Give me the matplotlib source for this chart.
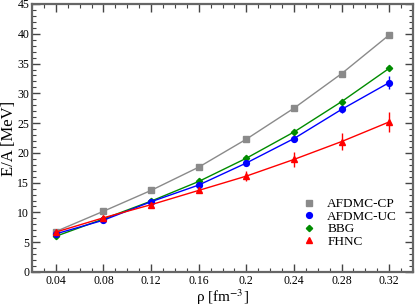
import matplotlib
matplotlib.use("Agg")
import matplotlib.pyplot as plt
from matplotlib.ticker import MultipleLocator
from matplotlib.lines import Line2D

rho = [0.04, 0.08, 0.12, 0.16, 0.20, 0.24, 0.28, 0.32]
afdmc_cp = [6.8, 10.2, 13.7, 17.6, 22.3, 27.5, 33.3, 39.8]
afdmc_uc = [6.4, 8.7, 11.8, 14.6, 18.3, 22.4, 27.3, 31.8]
afdmc_uc_err = [0.1, 0.15, 0.2, 0.3, 0.4, 0.5, 0.6, 1.05]
bbg = [6.0, 8.9, 11.9, 15.2, 19.1, 23.5, 28.6, 34.2]
fhnc = [6.7, 9.1, 11.3, 13.7, 16.1, 18.9, 21.9, 25.2]
fhnc_err = [0.2, 0.3, 0.4, 0.5, 0.8, 1.2, 1.4, 1.7]
xtick_labels = ['0.04', '0.08', '0.12', '0.16', '0.2', '0.24', '0.28', '0.32']

plt.rcParams['font.family'] = ['Liberation Serif', 'DejaVu Serif']
plt.rcParams['mathtext.fontset'] = 'stix'

fig = plt.figure(figsize=(4.15, 3.08), dpi=100)
ax = fig.add_axes([32/415, 1 - 272/308, (413-32)/415, (272-4)/308])

c_cp, c_uc, c_bbg, c_fh = '#8a8a8a', '#0000ff', '#008c00', '#ff0000'

ax.plot(rho, afdmc_cp, color=c_cp, lw=1.0, marker='s', ms=3.8, zorder=3)
ax.errorbar(rho, afdmc_uc, yerr=afdmc_uc_err, color=c_uc, lw=1.0,
            marker='o', ms=4.2, elinewidth=1.0, capsize=0, zorder=4)
ax.plot(rho, bbg, color=c_bbg, lw=1.0, marker='D', ms=3.2, zorder=3)
ax.errorbar(rho, fhnc, yerr=fhnc_err, color=c_fh, lw=1.0, marker='^',
            ms=4.2, elinewidth=1.0, capsize=0, zorder=5)

ax.set_xlim(0.02, 0.34)
ax.set_ylim(0, 45)
ax.xaxis.set_minor_locator(MultipleLocator(0.01))
ax.yaxis.set_major_locator(MultipleLocator(5))
ax.yaxis.set_minor_locator(MultipleLocator(1))
ax.set_xticks(rho)
ax.set_xticklabels(xtick_labels)

for s in ax.spines.values():
    s.set_color('#666666')
    s.set_linewidth(1.6)
ax.tick_params(which='both', direction='in', top=True, right=True,
               color='#444444', labelsize=8.5, labelcolor='black')
ax.tick_params(which='major', length=6, width=1.0)
ax.tick_params(which='minor', length=3, width=0.8)
ax.tick_params(axis='x', pad=2)
ax.tick_params(axis='y', pad=2)

ax.set_xlabel(r'ρ [fm$^{-3}$]', fontsize=11, va='bottom')
ax.xaxis.set_label_coords(0.5, -(307 - 272) / 268)
ax.set_ylabel('E/A [MeV]', fontsize=12, labelpad=0)

handles = [
    Line2D([], [], ls='None', marker='s', ms=3.8, color=c_cp),
    Line2D([], [], ls='None', marker='o', ms=4.2, color=c_uc),
    Line2D([], [], ls='None', marker='D', ms=3.2, color=c_bbg),
    Line2D([], [], ls='None', marker='^', ms=4.2, color=c_fh),
]
labels = ['AFDMC-CP', 'AFDMC-UC', 'BBG', 'FHNC']
ax.legend(handles, labels, loc='upper left', bbox_to_anchor=(0.685, 0.31),
          frameon=False, fontsize=9.5, handlelength=1.0, handletextpad=0.9,
          labelspacing=0.02, borderpad=0.2)

fig.savefig('out.png', dpi=100)
